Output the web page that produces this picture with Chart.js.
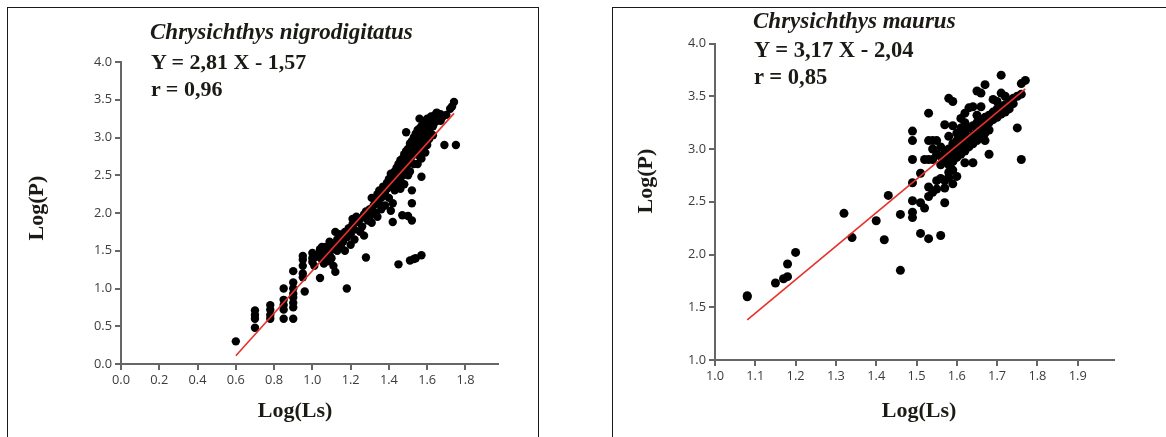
<!DOCTYPE html>
<html>
<head>
<meta charset="utf-8">
<script src="https://cdn.jsdelivr.net/npm/chart.js@4.4.0/dist/chart.umd.min.js"></script>
<style>
  html, body { margin: 0; padding: 0; background: #fff; width: 1166px; height: 437px; overflow: hidden; }
  .panel { position: absolute; border: 1px solid #1a1a1a; background: #fff; }
  canvas { position: absolute; top: 0; }
  .txt { position: absolute; font-family: "Liberation Serif", "Times New Roman", serif; font-weight: bold; font-size: 22px; line-height: 22px; color: #1c1a14; white-space: nowrap; }
  .it { font-style: italic; font-size: 23px; }
  .big { font-size: 22.6px; }
  .axt { text-align: center; width: 160px; }
  .rot { transform: rotate(-90deg); transform-origin: 50% 50%; }
</style>
</head>
<body>
<div class="panel" style="left:7px; top:7px; width:530px; height:500px;"></div>
<div class="panel" style="left:612px; top:7px; width:700px; height:500px;"></div>
<canvas id="c1" width="540" height="437" style="left:0px;"></canvas>
<canvas id="c2" width="606" height="437" style="left:560px;"></canvas>

<div class="txt it" id="t1" style="left:150px; top:21px;"></div>
<div class="txt" id="e1" style="left:151px; top:51px;"></div>
<div class="txt" id="r1" style="left:151px; top:78px;"></div>
<div class="txt axt" id="x1" style="left:215px; top:399px;"></div>
<div class="txt axt rot" id="y1" style="left:-44px; top:197px;"></div>

<div class="txt it" id="t2" style="left:753px; top:10px;"></div>
<div class="txt big" id="e2" style="left:754px; top:39px;"></div>
<div class="txt big" id="r2" style="left:754px; top:66px;"></div>
<div class="txt axt" id="x2" style="left:839px; top:399px;"></div>
<div class="txt axt rot" id="y2" style="left:565px; top:170px;"></div>

<script>
// ---------- text ----------
const speciesNames = ["Chrysichthys nigrodigitatus", "Chrysichthys maurus"];
const equations = ["Y = 2,81 X - 1,57", "Y = 3,17 X - 2,04"];
const correlations = ["r = 0,96", "r = 0,85"];
const xAxisTitle = "Log(Ls)";
const yAxisTitle = "Log(P)";

// ---------- axes ----------
const nigroXRange = [0, 1.97];
const nigroYRange = [0, 4];
const maurusXRange = [1.0, 1.99];
const maurusYRange = [1.0, 4.0];
const nigroXStep = 0.2, nigroYStep = 0.5;
const maurusXStep = 0.1, maurusYStep = 0.5;

// ---------- regression lines ----------
const nigroLineX = [0.60, 1.74];
const nigroLineY = [0.11, 3.32];
const maurusLineX = [1.08, 1.77];
const maurusLineY = [1.38, 3.57];

// ---------- Chrysichthys nigrodigitatus : [Log(Ls), Log(P)] ----------
const nigroPoints = [
[0.60,0.30],
[0.70,0.71],[0.70,0.65],[0.70,0.60],[0.70,0.48],
[0.78,0.78],[0.78,0.72],[0.78,0.65],[0.78,0.60],
[0.85,1.00],[0.85,0.85],[0.85,0.78],[0.85,0.72],[0.85,0.60],
[0.90,1.23],[0.90,1.08],[0.90,1.00],[0.90,0.93],[0.90,0.88],[0.90,0.81],[0.90,0.75],[0.90,0.60],
[0.95,1.43],[0.95,1.38],[0.95,1.30],[0.95,1.20],[0.95,1.15],[0.96,0.96],
[1.00,1.47],[1.00,1.40],[1.00,1.35],[1.01,1.30],[1.02,1.42],
[1.04,1.52],[1.04,1.48],[1.04,1.14],[1.05,1.55],[1.05,1.38],[1.06,1.45],[1.06,1.33],[1.07,1.55],[1.07,1.40],
[1.08,1.50],[1.08,1.36],[1.09,1.62],[1.09,1.45],[1.10,1.52],[1.10,1.40],[1.11,1.58],[1.11,1.30],[1.12,1.75],[1.12,1.22],
[1.13,1.65],[1.13,1.50],[1.14,1.60],[1.14,1.72],[1.15,1.70],[1.15,1.55],[1.16,1.62],[1.17,1.75],[1.17,1.50],[1.18,1.00],
[1.18,1.68],[1.19,1.80],[1.20,1.72],[1.20,1.58],[1.21,1.92],[1.21,1.85],[1.22,1.78],[1.22,1.65],[1.23,1.95],[1.24,1.88],
[1.25,1.75],[1.25,1.92],[1.26,1.82],[1.27,1.98],[1.27,1.70],[1.28,1.41],[1.28,2.02],[1.29,1.90],[1.30,2.05],[1.30,1.95],
[1.31,2.20],[1.31,1.87],[1.32,2.10],[1.33,2.00],[1.33,2.15],[1.34,2.25],[1.34,1.95],[1.35,2.30],[1.35,2.12],[1.36,2.20],
[1.36,2.05],[1.37,2.35],[1.37,2.28],[1.38,2.25],[1.38,2.10],[1.39,2.40],[1.39,2.32],[1.40,2.45],[1.40,2.35],[1.40,2.20],
[1.41,2.52],[1.41,2.38],[1.41,2.03],[1.42,2.48],[1.42,2.13],[1.42,1.88],[1.43,2.55],[1.43,2.42],[1.43,2.30],[1.44,2.60],
[1.44,2.50],[1.44,2.35],[1.45,2.65],[1.45,2.55],[1.45,2.40],[1.45,1.32],[1.46,2.70],[1.46,2.58],[1.46,2.45],[1.46,2.32],
[1.47,2.72],[1.47,2.62],[1.47,2.50],[1.47,1.97],[1.48,2.78],[1.48,2.68],[1.48,2.55],[1.48,2.38],[1.49,3.07],[1.49,2.82],
[1.49,2.72],[1.49,2.60],[1.50,2.85],[1.50,2.75],[1.50,2.65],[1.50,2.50],[1.50,1.96],[1.51,2.92],[1.51,2.80],[1.51,2.70],
[1.51,2.55],[1.51,1.37],[1.52,2.95],[1.52,2.85],[1.52,2.75],[1.52,2.30],[1.52,2.13],[1.52,1.90],[1.53,3.00],[1.53,2.90],
[1.53,2.78],[1.53,2.65],[1.53,1.39],[1.54,3.05],[1.54,2.95],[1.54,2.85],[1.54,1.40],[1.55,3.10],[1.55,3.00],[1.55,2.90],
[1.55,2.80],[1.55,2.65],[1.56,3.25],[1.56,3.12],[1.56,3.02],[1.56,2.92],[1.56,2.75],[1.57,3.15],[1.57,3.05],[1.57,2.95],
[1.57,2.72],[1.57,2.48],[1.57,1.44],[1.58,3.20],[1.58,3.10],[1.58,3.00],[1.58,2.85],[1.59,3.22],[1.59,3.12],[1.59,3.02],
[1.59,2.80],[1.60,3.25],[1.60,3.15],[1.60,3.05],[1.60,2.90],[1.61,3.20],[1.61,3.10],[1.61,2.98],[1.62,3.28],[1.62,3.18],
[1.62,3.05],[1.63,3.25],[1.63,3.15],[1.63,3.03],[1.64,3.30],[1.64,3.20],[1.65,3.33],[1.65,3.22],[1.66,3.28],[1.67,3.31],
[1.67,3.22],[1.68,3.27],[1.69,2.90],[1.70,3.30],[1.72,3.38],[1.73,3.41],[1.74,3.47],[1.75,2.90]
];

// ---------- Chrysichthys maurus : [Log(Ls), Log(P)] ----------
const maurusPoints = [
[1.08,1.60],[1.08,1.61],[1.15,1.73],[1.17,1.77],[1.18,1.79],[1.18,1.91],[1.20,2.02],[1.32,2.39],[1.34,2.16],
[1.40,2.32],[1.42,2.14],[1.43,2.56],[1.46,1.85],[1.46,2.38],
[1.49,3.17],[1.49,3.08],[1.49,2.90],[1.49,2.68],[1.49,2.51],[1.49,2.40],[1.49,2.35],
[1.51,2.77],[1.51,2.20],[1.51,2.49],[1.52,2.44],[1.53,2.15],[1.53,3.34],[1.52,2.90],[1.53,2.90],[1.53,2.64],
[1.53,2.55],[1.54,2.59],[1.56,2.18],[1.57,2.49],[1.58,3.48],[1.59,3.45],[1.57,3.23],
[1.53,3.08],[1.54,3.08],[1.55,3.08],[1.54,2.90],[1.54,3.00],[1.55,2.95],[1.55,2.62],[1.55,2.70],[1.56,2.72],
[1.56,3.02],[1.56,2.93],[1.56,2.85],[1.57,2.98],[1.57,2.90],[1.57,2.63],[1.57,2.70],[1.58,3.00],[1.58,2.93],
[1.58,2.85],[1.58,2.78],[1.58,2.73],[1.58,3.12],[1.59,3.05],[1.59,2.97],[1.59,2.88],[1.59,2.80],[1.59,3.22],
[1.59,2.67],[1.60,3.08],[1.60,3.00],[1.60,2.92],[1.60,3.15],[1.60,2.74],[1.61,3.12],[1.61,3.03],[1.61,2.95],
[1.61,3.20],[1.61,3.29],[1.62,3.15],[1.62,3.07],[1.62,2.98],[1.62,3.25],[1.62,3.34],[1.62,2.87],[1.63,3.20],
[1.63,3.10],[1.63,3.02],[1.63,3.39],[1.64,3.22],[1.64,3.13],[1.64,3.05],[1.64,3.40],[1.64,2.87],[1.65,3.25],
[1.65,3.17],[1.65,3.08],[1.65,3.32],[1.65,3.55],[1.66,3.53],[1.66,3.28],[1.66,3.20],[1.66,3.12],[1.66,3.40],
[1.67,3.61],[1.67,3.30],[1.67,3.22],[1.67,3.15],[1.67,3.08],[1.68,3.32],[1.68,3.25],[1.68,3.18],[1.68,2.95],
[1.69,3.35],[1.69,3.28],[1.69,3.47],[1.70,3.38],[1.70,3.30],[1.70,3.45],[1.71,3.70],[1.71,3.40],[1.71,3.33],
[1.71,3.53],[1.72,3.42],[1.72,3.35],[1.72,3.50],[1.73,3.45],[1.73,3.38],[1.74,3.43],[1.74,3.48],[1.75,3.20],
[1.75,3.50],[1.76,3.52],[1.76,3.62],[1.76,2.90],[1.77,3.65]
];

// ---------- text placement ----------
document.getElementById('t1').textContent = speciesNames[0];
document.getElementById('e1').textContent = equations[0];
document.getElementById('r1').textContent = correlations[0];
document.getElementById('x1').textContent = xAxisTitle;
document.getElementById('y1').textContent = yAxisTitle;
document.getElementById('t2').textContent = speciesNames[1];
document.getElementById('e2').textContent = equations[1];
document.getElementById('r2').textContent = correlations[1];
document.getElementById('x2').textContent = xAxisTitle;
document.getElementById('y2').textContent = yAxisTitle;

// ---------- chart building ----------
const AXIS = '#666666';
function axis(range, step, fit, horizontal) {
  return {
    type: 'linear',
    min: range[0], max: range[1],
    border: { display: true, color: AXIS, width: 2 },
    grid: { display: true, drawOnChartArea: false, drawTicks: true, tickLength: 6, color: AXIS, lineWidth: 2 },
    ticks: {
      stepSize: step, includeBounds: false, autoSkip: false, maxRotation: 0, minRotation: 0,
      padding: 3, color: '#3c3c3c',
      font: { family: '"Open Sans", "Noto Sans", sans-serif', size: 12.8 },
      callback: v => Number(v).toFixed(1)
    },
    afterFit(s) { if (horizontal) s.height = fit; else s.width = fit; }
  };
}
function pts(list) { return list.map(p => ({ x: p[0], y: p[1] })); }
function linePts(xs, ys) { return xs.map((x, i) => ({ x: x, y: ys[i] })); }

function build(id, points, lx, ly, xr, yr, xs, ys, yW, xH, pad, radius) {
  new Chart(document.getElementById(id), {
    type: 'scatter',
    data: {
      datasets: [
        { type: 'line', data: linePts(lx, ly), borderColor: '#e8302a', borderWidth: 1.6,
          pointRadius: 0, fill: false, order: 0 },
        { data: pts(points), backgroundColor: '#000000', borderWidth: 0,
          pointRadius: radius, pointHoverRadius: radius, order: 1 }
      ]
    },
    options: {
      responsive: false, animation: false, devicePixelRatio: 1, events: [],
      layout: { padding: pad },
      plugins: { legend: { display: false }, tooltip: { enabled: false }, title: { display: false } },
      scales: { x: axis(xr, xs, xH, true), y: axis(yr, ys, yW, false) }
    }
  });
}

build('c1', nigroPoints, nigroLineX, nigroLineY, nigroXRange, nigroYRange, nigroXStep, nigroYStep,
      121, 40, { left: 0, top: 62, right: 42, bottom: 33 }, 4.2);
build('c2', maurusPoints, maurusLineX, maurusLineY, maurusXRange, maurusYRange, maurusXStep, maurusYStep,
      155, 40, { left: 0, top: 43.5, right: 52, bottom: 37 }, 4.5);
</script>
</body>
</html>
